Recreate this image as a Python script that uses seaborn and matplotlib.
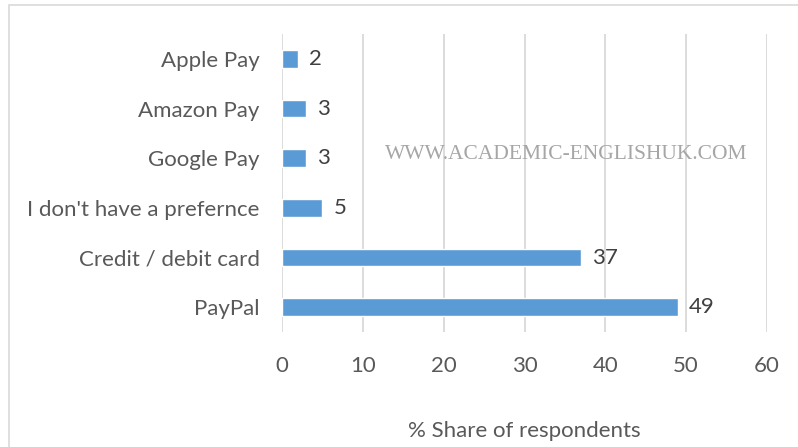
import pandas as pd
import seaborn as sns
import matplotlib.pyplot as plt
from matplotlib.patches import Rectangle

methods = [
    'Apple Pay',
    'Amazon Pay',
    'Google Pay',
    "I don't have a prefernce",
    'Credit / debit card',
    'PayPal',
]
shares = [2, 3, 3, 5, 37, 49]
x_ticks = [0, 10, 20, 30, 40, 50, 60]

text_color = '#595959'
grid_color = '#D9D9D9'
bar_color = '#5B9BD5'

sns.set_theme(style='white')
plt.rcParams['font.family'] = ['Lato', 'DejaVu Sans']

df = pd.DataFrame({'method': methods, 'share': shares})

fig = plt.figure(figsize=(7.98, 4.47), dpi=100)
ax = fig.add_axes([282 / 798, 1 - 332 / 447, 485 / 798, 298 / 447])

sns.barplot(data=df, x='share', y='method', orient='h', color=bar_color,
            width=0.36, saturation=1, ax=ax, zorder=3)

ax.set_xlim(0, 60)
ax.set_ylim(len(methods) - 0.5, -0.5)
ax.set_xticks(x_ticks)
ax.xaxis.grid(True, color=grid_color, linewidth=1.3, zorder=0)
ax.yaxis.grid(False)
for s in ax.spines.values():
    s.set_visible(False)
ax.tick_params(axis='x', length=0, pad=17, labelsize=16, labelcolor=text_color)
ax.tick_params(axis='y', length=0, pad=16, labelsize=16, labelcolor=text_color)
ax.set_ylabel('')
ax.set_xlabel('% Share of respondents', fontsize=16, color=text_color, labelpad=33)

for i, v in enumerate(shares):
    ax.annotate(str(v), (v, i), xytext=(8, 0), textcoords='offset points',
                va='center', ha='left', fontsize=16, color='#404040')

ax.text(0.959, 0.596, 'WWW.ACADEMIC-ENGLISHUK.COM', transform=ax.transAxes,
        ha='right', va='center', fontsize=15.5, color='#A6A6A6',
        family=['Liberation Serif', 'DejaVu Serif'], zorder=5)

fig.patches.append(Rectangle((9 / 798, -0.1), 1.2, 1 - 5 / 447 + 0.1,
                             transform=fig.transFigure, fill=False,
                             edgecolor=grid_color, linewidth=1.2))

fig.savefig('out.png', dpi=100)
